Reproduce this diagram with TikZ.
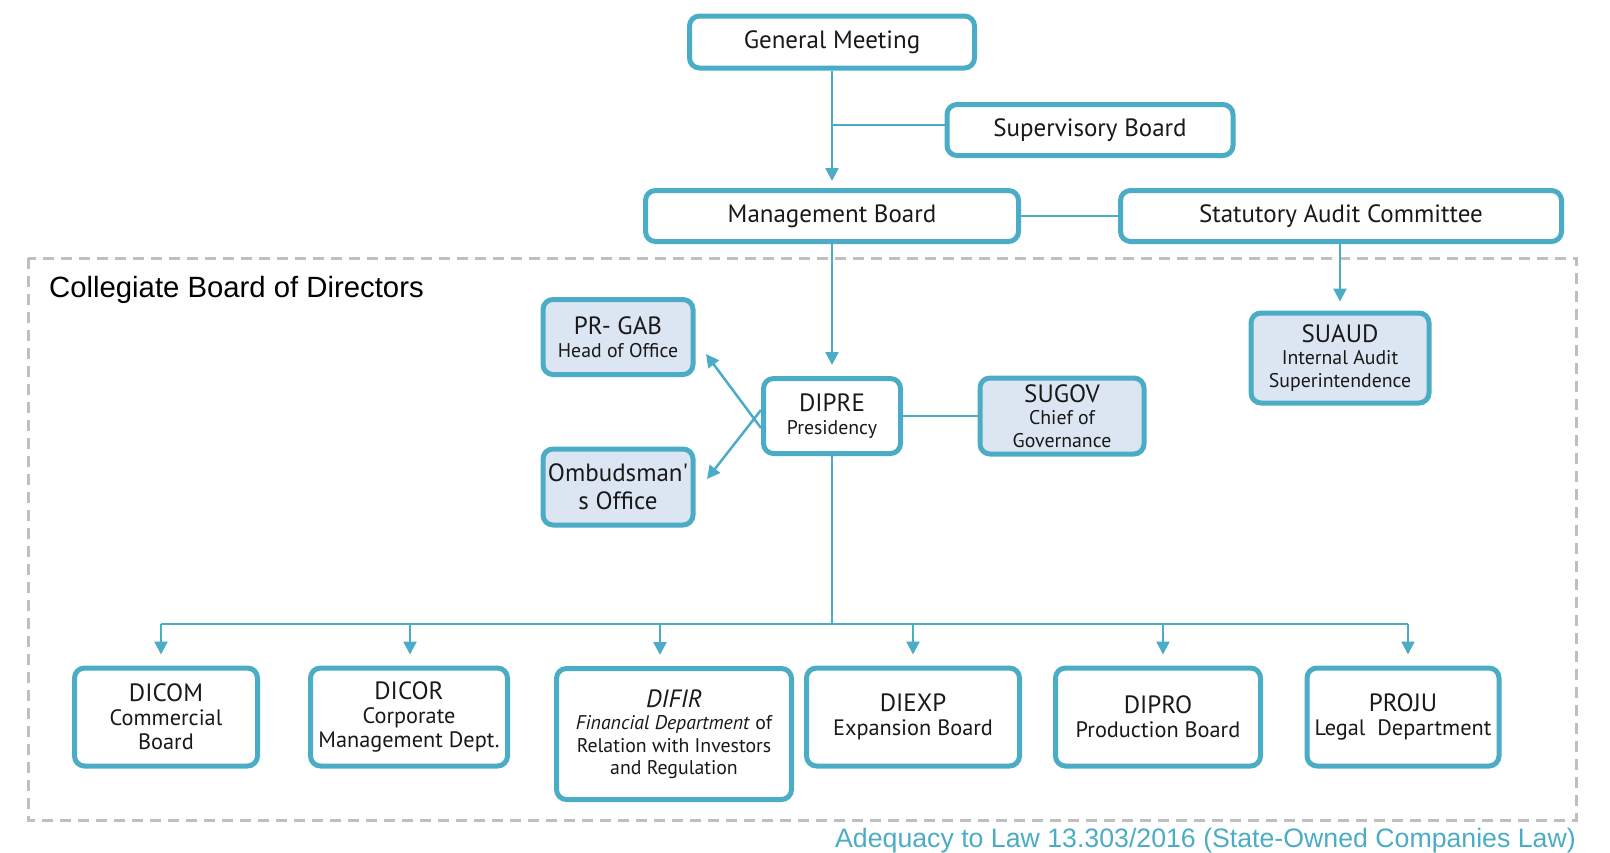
\documentclass[tikz,border=0pt]{standalone}
\usepackage{fontspec}
\setmainfont{PT Sans}
\newfontfamily\arialf{Liberation Sans}
\usetikzlibrary{arrows.meta}
\definecolor{tl}{HTML}{4BACC6}
\definecolor{lb}{HTML}{DCE6F2}
\definecolor{dg}{HTML}{BFBFBF}
\newcommand\fA{\fontsize{25}{28}\selectfont}
\newcommand\fB{\fontsize{19.8}{22.5}\selectfont}
\newcommand\fC{\fontsize{22.3}{24}\selectfont}
\begin{document}
\begin{tikzpicture}[x=1pt,y=-1pt,
  box/.style={draw=tl, line width=5pt, rounded corners=10pt, fill=white, align=center, inner sep=2pt, text=black!90},
  sbox/.style={box, fill=lb},
  conn/.style={draw=tl, line width=2.5pt},
  arr/.style={conn, -{Triangle[length=13pt,width=13pt]}},
]
\useasboundingbox (0,0) rectangle (1610,852);
% dashed frame
\draw[dg, line width=3pt, dash pattern=on 11pt off 7pt] (28,258) rectangle (1576,820);
\node[anchor=base west, inner sep=0pt, font=\arialf\fontsize{29.3}{32}\selectfont] (cbd) at (49,297) {Collegiate Board of Directors};
\node[anchor=base east, inner sep=0pt, text=tl, font=\arialf\fontsize{26.7}{29}\selectfont] (foot) at (1576,847) {Adequacy to Law 13.303/2016 (State-Owned Companies Law)};

% top
\node[box, font=\fA, minimum width=285pt, minimum height=52pt] (gm) at (832,42) {General Meeting};
\node[box, font=\fA, minimum width=286pt, minimum height=51pt] (sb) at (1090,130) {Supervisory Board};
\node[box, font=\fA, minimum width=373pt, minimum height=51pt] (mb) at (832,216) {Management Board};
\node[box, font=\fA, minimum width=441pt, minimum height=51pt] (sac) at (1341,216) {Statutory Audit Committee};

% middle
\node[sbox, font=\fB, minimum width=150pt, minimum height=75pt] (prgab) at (618,337) {{\fA PR- GAB}\\Head of Office};
\node[sbox, font=\fA, minimum width=150pt, minimum height=76pt] (omb) at (618,487) {Ombudsman\textquotesingle\\s Office};
\node[box, font=\fB, minimum width=137pt, minimum height=75pt] (dipre) at (832,416) {{\fA DIPRE}\\Presidency};
\node[sbox, font=\fB, minimum width=164pt, minimum height=76pt] (sugov) at (1062,416) {{\fA SUGOV}\\Chief of\\Governance};
\node[sbox, font=\fB, minimum width=178pt, minimum height=90pt] (suaud) at (1340,358) {{\fA SUAUD}\\Internal Audit\\Superintendence};

% bottom
\node[box, font=\fC, minimum width=183pt, minimum height=98pt] (dicom) at (166,717) {{\fA DICOM}\\Commercial\\Board};
\node[box, font=\fC, minimum width=197pt, minimum height=98pt] (dicor) at (409,717) {{\fA DICOR}\\Corporate\\Management Dept.};
\node[box, font=\fB, minimum width=235pt, minimum height=131pt] (difir) at (674,734) {{\fA\itshape DIFIR}\\\textit{Financial Department} of\\Relation with Investors\\and Regulation};
\node[box, font=\fC, minimum width=213pt, minimum height=98pt] (diexp) at (913,717) {{\fA DIEXP}\\Expansion Board};
\node[box, font=\fC, minimum width=205pt, minimum height=98pt] (dipro) at (1158,717) {{\fA DIPRO}\\Production Board};
\node[box, font=\fC, minimum width=192pt, minimum height=98pt] (proju) at (1403,717) {{\fA PROJU}\\Legal\ \ Department};

% connectors
\draw[arr, shorten >=7pt] (gm.south) -- (mb.north);
\coordinate (sbj) at (832,125);
\draw[conn] (sbj) -- (sbj -| sb.west);
\draw[conn] (mb) -- (sac);
\draw[arr, shorten >=11pt] (mb.south) -- (dipre.north);
\draw[arr, shorten >=9pt] (sac.south -| suaud.north) -- (suaud.north);
\draw[conn] (dipre) -- (sugov);
\coordinate (t1) at (706,354);
\coordinate (t2) at (707,479);
\draw[arr] ([yshift=-12pt]dipre.west) -- (t1);
\draw[arr] ([yshift=6pt]dipre.west) -- (t2);

\coordinate (bus) at (832,624);
\coordinate (bl) at (161,624);
\coordinate (br) at (1408,624);
\draw[conn] (dipre.south) -- (bus);
\draw[conn] (bl) -- (br);
\coordinate (d1) at (161,624);
\coordinate (d2) at (410,624);
\coordinate (d3) at (660,624);
\coordinate (d4) at (913,624);
\coordinate (d5) at (1163,624);
\coordinate (d6) at (1408,624);
\draw[arr, shorten >=11pt] (d1) -- (d1 |- dicom.north);
\draw[arr, shorten >=11pt] (d2) -- (d2 |- dicor.north);
\draw[arr, shorten >=11pt] (d3) -- (d3 |- difir.north);
\draw[arr, shorten >=11pt] (d4) -- (d4 |- diexp.north);
\draw[arr, shorten >=11pt] (d5) -- (d5 |- dipro.north);
\draw[arr, shorten >=11pt] (d6) -- (d6 |- proju.north);
\end{tikzpicture}
\end{document}
